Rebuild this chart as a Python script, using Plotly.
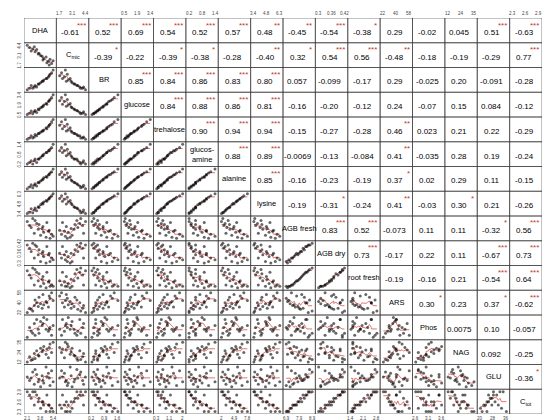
import numpy as np
import plotly.graph_objects as go

NAMES = ["DHA", "C<sub>mic</sub>", "BR", "glucose", "trehalose", "glucos-<br>amine", "alanine", "lysine",
         "AGB fresh", "AGB dry", "root fresh", "ARS", "Phos", "NAG", "GLU", "C<sub>tot</sub>"]

# observations per variable (estimated)
DHA = [2.1, 2.4, 2.8, 3.0, 2.6, 3.3, 3.5, 3.1, 3.8, 4.0, 3.6, 4.2, 4.5, 4.1, 4.8, 5.0, 4.6, 5.2, 5.4, 4.9]
CMIC = [4.4, 4.1, 3.9, 4.2, 3.6, 3.8, 3.2, 3.5, 3.0, 2.9, 3.3, 2.6, 2.8, 2.4, 2.2, 2.5, 2.0, 1.9, 2.3, 1.7]
BR = [0.2, 0.3, 0.3, 0.4, 0.5, 0.4, 0.6, 0.5, 0.7, 0.8, 0.6, 0.9, 1.0, 0.8, 1.1, 1.3, 1.0, 1.4, 1.6, 1.2]
GLUCOSE = [0.5, 0.7, 0.6, 0.9, 1.0, 0.8, 1.3, 1.1, 1.5, 1.6, 1.2, 1.9, 2.1, 1.7, 2.4, 2.7, 2.0, 3.0, 3.4, 2.5]
TREHALOSE = [0.3, 0.4, 0.4, 0.5, 0.6, 0.6, 0.8, 0.7, 0.9, 1.0, 0.8, 1.1, 1.3, 1.0, 1.4, 1.6, 1.2, 1.8, 2.0, 1.5]
GLUCOSAMINE = [0.2, 0.3, 0.2, 0.4, 0.4, 0.3, 0.5, 0.5, 0.6, 0.7, 0.5, 0.8, 0.9, 0.7, 1.0, 1.1, 0.9, 1.2, 1.4, 1.0]
ALANINE = [2.0, 2.5, 2.3, 3.0, 3.2, 2.8, 3.9, 3.5, 4.3, 4.6, 3.8, 5.2, 5.6, 4.8, 6.0, 6.6, 5.4, 7.0, 7.8, 6.2]
LYSINE = [3.4, 3.6, 3.5, 3.9, 4.1, 3.8, 4.4, 4.2, 4.7, 4.9, 4.3, 5.1, 5.3, 4.8, 5.5, 5.8, 5.2, 6.0, 6.3, 5.6]
AGB_FRESH = [8.6, 8.2, 8.9, 7.4, 8.0, 8.4, 7.8, 8.7, 7.2, 7.9, 8.3, 7.5, 7.0, 8.1, 7.6, 6.9, 8.5, 7.3, 7.1, 7.7]
AGB_DRY = [0.41, 0.39, 0.42, 0.33, 0.37, 0.40, 0.35, 0.41, 0.31, 0.36, 0.38, 0.34, 0.30, 0.37, 0.35, 0.31, 0.40, 0.33, 0.32, 0.36]
ROOT_FRESH = [2.6, 2.3, 2.8, 1.6, 2.1, 2.5, 1.9, 2.7, 1.5, 2.0, 2.4, 1.7, 1.4, 2.2, 1.8, 1.5, 2.5, 1.6, 1.5, 1.9]
ARS = [22, 30, 25, 35, 28, 40, 33, 45, 38, 30, 50, 36, 42, 55, 32, 48, 40, 58, 44, 52]
PHOS = [2.6, 3.1, 2.8, 3.3, 2.9, 3.5, 3.0, 2.7, 3.4, 3.2, 2.8, 3.6, 3.0, 3.3, 2.9, 3.1, 3.5, 2.7, 3.2, 3.0]
NAG = [12, 18, 15, 22, 14, 25, 20, 16, 28, 24, 19, 30, 21, 26, 17, 33, 27, 23, 35, 29]
GLU = [28, 25, 32, 22, 27, 30, 24, 34, 20, 29, 26, 23, 36, 25, 31, 21, 28, 33, 24, 27]
CTOT = [2.9, 2.8, 2.9, 2.5, 2.7, 2.8, 2.6, 2.9, 2.4, 2.6, 2.7, 2.5, 2.3, 2.6, 2.5, 2.3, 2.8, 2.4, 2.3, 2.5]

DATA = [DHA, CMIC, BR, GLUCOSE, TREHALOSE, GLUCOSAMINE, ALANINE, LYSINE,
        AGB_FRESH, AGB_DRY, ROOT_FRESH, ARS, PHOS, NAG, GLU, CTOT]

# upper triangle correlation coefficients, row by row
R_ROWS = [
    [-0.61, 0.52, 0.69, 0.54, 0.52, 0.57, 0.48, -0.45, -0.54, -0.38, 0.29, -0.02, 0.045, 0.51, -0.63],
    [-0.39, -0.22, -0.39, -0.38, -0.28, -0.40, 0.32, 0.54, 0.56, -0.48, -0.18, -0.19, -0.29, 0.77],
    [0.85, 0.84, 0.86, 0.83, 0.80, 0.057, -0.099, -0.17, 0.29, -0.025, 0.20, -0.091, -0.28],
    [0.84, 0.88, 0.86, 0.81, -0.16, -0.20, -0.12, 0.24, -0.07, 0.15, 0.084, -0.12],
    [0.90, 0.94, 0.94, -0.15, -0.27, -0.28, 0.46, 0.023, 0.21, 0.22, -0.29],
    [0.88, 0.89, -0.0069, -0.13, -0.084, 0.41, -0.035, 0.28, 0.19, -0.24],
    [0.85, -0.16, -0.23, -0.19, 0.37, 0.02, 0.29, 0.11, -0.15],
    [-0.19, -0.31, -0.24, 0.41, -0.03, 0.30, 0.21, -0.26],
    [0.83, 0.52, -0.073, 0.11, 0.11, -0.32, 0.56],
    [0.73, -0.17, 0.22, 0.11, -0.67, 0.73],
    [-0.19, -0.16, 0.21, -0.54, 0.64],
    [0.30, 0.23, 0.37, -0.62],
    [0.0075, 0.10, -0.057],
    [0.092, -0.25],
    [-0.36],
]

N = len(NAMES)
PAD = 0.1
TICK_FONT = dict(size=4.5, color="#444")


def stars(r):
    a = abs(r)
    if a >= 0.5:
        return "***"
    if a >= 0.4:
        return "**"
    if a >= 0.3:
        return "*"
    return ""


def fmt(r):
    return f"{r:.2g}" if abs(r) < 0.1 else f"{r:.2f}"


def scale(v, lo, hi, off):
    v = np.asarray(v, dtype=float)
    return off + PAD + (v - lo) / (hi - lo) * (1 - 2 * PAD)


fig = go.Figure()
shapes = []
annotations = []

px_all, py_all = [], []
for i in range(N):
    for j in range(N):
        shapes.append(dict(type="rect", x0=j, x1=j + 1, y0=-i - 1, y1=-i,
                           line=dict(color="#333", width=0.6)))
        if i == j:
            annotations.append(dict(x=j + 0.5, y=-i - 0.5, text=NAMES[i], showarrow=False,
                                    font=dict(size=7.5, color="#000000")))
        elif j > i:
            r = R_ROWS[i][j - i - 1]
            annotations.append(dict(x=j + 0.45, y=-i - 0.58, text=fmt(r), showarrow=False,
                                    font=dict(size=8, color="#000000")))
            s = stars(r)
            if s:
                annotations.append(dict(x=j + 0.97, y=-i - 0.02, text=s, showarrow=False,
                                        xanchor="right", yanchor="top",
                                        font=dict(size=8, color="#c0392b")))
        else:
            xv, yv = DATA[j], DATA[i]
            xs = scale(xv, min(xv), max(xv), j)
            ys = scale(yv, min(yv), max(yv), -i - 1)
            px_all += list(xs) + [None]
            py_all += list(ys) + [None]
            order = np.argsort(xs)
            sx = np.asarray(xs)[order]
            sy = np.convolve(np.asarray(ys)[order], np.ones(5) / 5, mode="same")
            sy[:2] = sy[2]
            sy[-2:] = sy[-3]
            fig.add_trace(go.Scatter(x=sx, y=sy, mode="lines",
                                     line=dict(color="#d9534f", width=0.8),
                                     hoverinfo="skip", showlegend=False))

fig.add_trace(go.Scatter(x=px_all, y=py_all, mode="markers",
                         marker=dict(size=3, color="rgba(0,0,0,0.6)"),
                         hoverinfo="skip", showlegend=False))

# edge tick labels, alternating sides like R pairs()
for k in range(N):
    v = DATA[k]
    lo, hi = min(v), max(v)
    for t in [lo, (lo + hi) / 2, hi]:
        lab = f"{t:.2g}"
        pos = float(scale([t], lo, hi, 0)[0])
        if k % 2 == 0:
            annotations.append(dict(x=k + pos, y=-N, text=lab, showarrow=False, yanchor="top",
                                    font=TICK_FONT))
            annotations.append(dict(x=N, y=-k - 1 + pos, text=lab, showarrow=False, xanchor="left",
                                    textangle=-90, font=TICK_FONT))
        else:
            annotations.append(dict(x=k + pos, y=0, text=lab, showarrow=False, yanchor="bottom",
                                    font=TICK_FONT))
            annotations.append(dict(x=0, y=-k - 1 + pos, text=lab, showarrow=False, xanchor="right",
                                    textangle=-90, font=TICK_FONT))

fig.update_layout(
    width=550, height=420,
    margin=dict(l=16, r=16, t=10, b=14),
    plot_bgcolor="white", paper_bgcolor="white",
    font=dict(family="Liberation Sans", color="#000000"),
    shapes=shapes, annotations=annotations,
    xaxis=dict(range=[0, N], visible=False, fixedrange=True),
    yaxis=dict(range=[-N, 0], visible=False, fixedrange=True),
)

fig.write_html("out.html")
